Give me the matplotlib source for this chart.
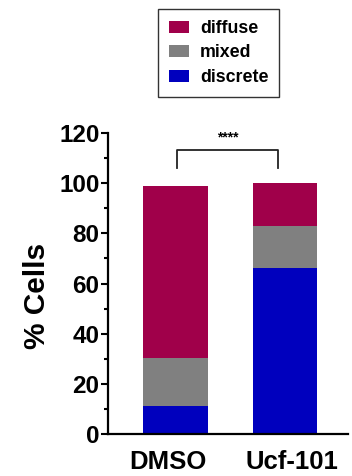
import matplotlib
matplotlib.use('Agg')
import matplotlib.pyplot as plt
from matplotlib.patches import Patch
import numpy as np

# Data
groups = ['DMSO', 'Ucf-101']
discrete = [11.3, 66.2]
mixed = [19.2, 16.7]
diffuse = [68.3, 17.1]
series_names = ['diffuse', 'mixed', 'discrete']
colors = {'diffuse': '#A0004A', 'mixed': '#808080', 'discrete': '#0000BE'}
yticks = [0, 20, 40, 60, 80, 100, 120]
sig_label = '****'

plt.rcParams['font.family'] = ['Liberation Sans', 'DejaVu Sans']
plt.rcParams['font.weight'] = 'bold'

fig = plt.figure(figsize=(3.52, 4.76), dpi=100)
ax = fig.add_axes([0.306, 0.0876, 0.683, 0.6334])

x = np.arange(len(groups))
w = 0.59
ax.bar(x, discrete, w, color=colors['discrete'])
ax.bar(x, mixed, w, bottom=discrete, color=colors['mixed'])
bottom2 = np.array(discrete) + np.array(mixed)
ax.bar(x, diffuse, w, bottom=bottom2, color=colors['diffuse'])

ax.set_xlim(-0.62, 1.58)
ax.set_ylim(0, 120)
ax.set_yticks(yticks)
ax.set_yticks(np.arange(10, 120, 20), minor=True)
# labels sit a little wider apart than the bars in the original
ax.set_xticks(x + np.array([-0.065, 0.07]))
ax.set_xticklabels(groups, fontsize=18.5, fontweight='bold')
ax.tick_params(axis='x', length=0, pad=11)
ax.tick_params(axis='y', which='major', length=5, width=1.5, labelsize=17.5, pad=1)
ax.tick_params(axis='y', which='minor', length=3, width=1.5)
for lab in ax.get_yticklabels():
    lab.set_fontweight('bold')

for s in ['top', 'right']:
    ax.spines[s].set_visible(False)
for s in ['left', 'bottom']:
    ax.spines[s].set_linewidth(1.6)

ax.set_ylabel('% Cells', fontsize=21.5, fontweight='bold')
ax.yaxis.set_label_coords(-0.235, 0.459)

# significance bracket
bx0, bx1 = 0.01, 0.94
ax.plot([bx0, bx0, bx1, bx1], [106, 113, 113, 106], color='#222222', lw=1.3,
        clip_on=False)
ax.text((bx0 + bx1) / 2, 115.5, sig_label, ha='center', va='bottom',
        fontsize=10, fontweight='bold')

handles = [Patch(facecolor=colors[n], edgecolor='none', label=n) for n in series_names]
leg = fig.legend(handles=handles, loc='upper left',
                 bbox_to_anchor=(158 / 352, 1 - 9 / 476), borderaxespad=0,
                 fancybox=False, edgecolor='black', fontsize=12.8,
                 handlelength=1.12, handleheight=0.67, labelspacing=0.42,
                 handletextpad=0.62, borderpad=0.62)
leg.get_frame().set_linewidth(1.0)
for t in leg.get_texts():
    t.set_fontweight('bold')

fig.savefig('out.png', dpi=100)
